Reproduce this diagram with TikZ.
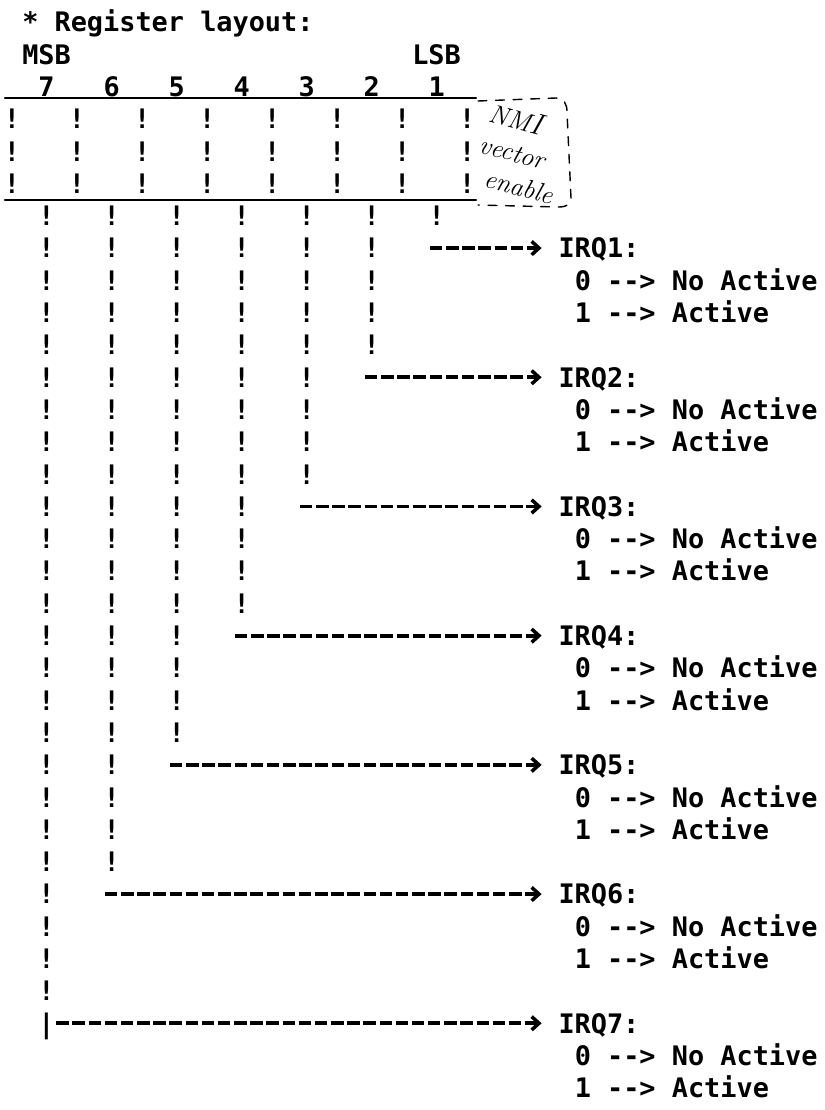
\documentclass[tikz,border=0pt]{standalone}
\usepackage{fontspec}
\setmonofont{DejaVu Sans Mono}
\usetikzlibrary{arrows.meta}

\begin{document}
\begin{tikzpicture}[x=0.02cm,y=-0.02cm,>=Latex,line cap=round,line join=round]
  \tikzset{
    typed/.style={font=\ttfamily\bfseries\fontsize{15.3}{18}\selectfont,anchor=base west,inner sep=0pt,outer sep=0pt},
    irqlabel/.style={typed,text height=11.2pt,text depth=0pt},
    irqline/.style={line width=2.2pt,line cap=butt,dash pattern=on 7.1pt off 2.1pt,
      -{Straight Barb[length=4.2pt,width=7.6pt,line width=2pt]},shorten >=9.6pt},
    regrule/.style={line width=1.4pt},
    handline/.style={line width=0.8pt,dash pattern=on 5pt off 5pt},
    handtext/.style={font=\itshape\fontsize{15}{17}\selectfont,inner sep=0pt}
  }

  \path[use as bounding box] (0,0) rectangle (825,1110);

  % header lines
  \node[typed] (title) at (6+16.25*1,31.8) {* Register layout:};
  \node[typed] (msb) at (6+16.25*1,31.8+32.3) {MSB};
  \node[typed] (lsb) at (6+16.25*25,31.8+32.3) {LSB};
  \foreach \b in {1,...,7} {
    \pgfmathtruncatemacro\c{2+4*(7-\b)}
    \node[typed] (bit\b) at (6+16.25*\c,31.8+32.3*2) {\b};
  }

  % register box
  \draw[regrule] (5,98) -- (476,98);
  \draw[regrule] (5,200) -- (476,200);
  \foreach \r in {3,4,5}
    \foreach \i in {0,...,7}
      \node[typed] (cell\r-\i) at (4+16.25*4*\i,31.8+32.3*\r) {!};

  % bit lines and their IRQ outputs
  \foreach \b in {1,...,7} {
    \pgfmathtruncatemacro\c{2+4*(7-\b)}
    \pgfmathtruncatemacro\last{6+4*(\b-1)}
    \pgfmathtruncatemacro\row{7+4*(\b-1)}
    \pgfmathtruncatemacro\rowa{\row+1}
    \pgfmathtruncatemacro\rowb{\row+2}
    \pgfmathsetmacro\xs{7.5+16.25*(\c+(\b==7))}
    \foreach \r in {6,...,\last}
      \node[typed] (bar\b-\r) at (6+16.25*\c,31.8+32.3*\r) {!};
    \node[irqlabel] (irq\b) at (6+16.25*34,31.8+32.3*\row) {IRQ\b:};
    \node[typed] (off\b) at (6+16.25*35,31.8+32.3*\rowa) {0 --> No Active};
    \node[typed] (on\b) at (6+16.25*35,31.8+32.3*\rowb) {1 --> Active};
    \coordinate (start\b) at (\xs,0 |- irq\b);
    \draw[irqline] (start\b) -- (irq\b);
  }
  \node[typed] (tee) at (6+16.25*2,31.8+32.3*31) {|};

  % pencil note
  \draw[handline] (478,101) -- (556,98) .. controls (564,98) and (567,104) .. (567,112)
    -- (571,198) .. controls (571,205) and (566,207) .. (558,207) -- (478,205);
  \node[handtext,rotate=-15] (nmi) at (516,118) {NM{\LARGE I}};
  \node[handtext,rotate=-15] (vect) at (512,153) {vector};
  \node[handtext,rotate=-15] (enab) at (519,187) {enable};
\end{tikzpicture}
\end{document}
